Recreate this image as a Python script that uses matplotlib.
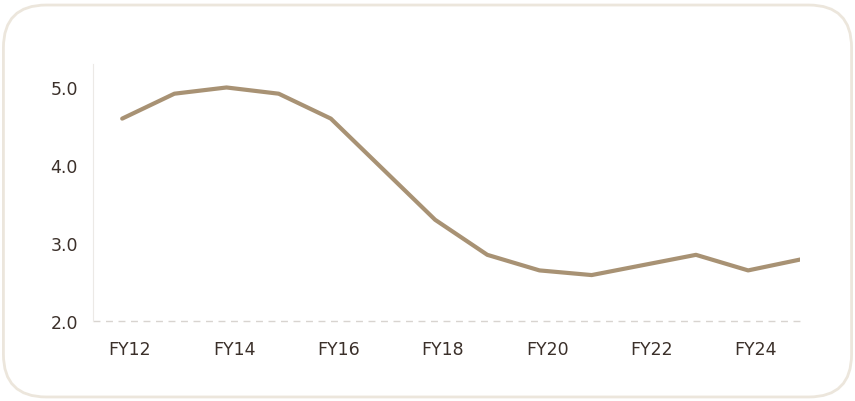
import matplotlib.pyplot as plt
from matplotlib.patches import FancyBboxPatch

# data
years = ['FY12', 'FY13', 'FY14', 'FY15', 'FY16', 'FY17', 'FY18',
         'FY19', 'FY20', 'FY21', 'FY22', 'FY23', 'FY24', 'FY25']
values = [4.6, 4.92, 5.0, 4.92, 4.6, 3.95, 3.3,
          2.85, 2.65, 2.59, 2.72, 2.85, 2.65, 2.79]
tick_labels = ['FY12', 'FY14', 'FY16', 'FY18', 'FY20', 'FY22', 'FY24']
y_ticks = [2.0, 3.0, 4.0, 5.0]

texto = '#3b302a'
linea = '#a89274'

fig = plt.figure(figsize=(8.55, 4.02), dpi=100)
marco = FancyBboxPatch((0.004, 0.01), 0.992, 0.975, boxstyle='round,pad=0,rounding_size=0.05',
                       transform=fig.transFigure, fc='white', ec='#ece6dc', lw=2,
                       mutation_aspect=855 / 402, zorder=-10)
fig.patches.append(marco)

ax = fig.add_axes([0.109, 0.199, 0.827, 0.639])
ax.patch.set_alpha(0)
x = list(range(len(years)))
ax.plot(x, values, color=linea, lw=3, solid_capstyle='round', solid_joinstyle='round')

ax.set_xlim(-0.556, 13)
ax.set_ylim(2.0, 5.3)
ax.set_xticks([years.index(t) + 0.15 for t in tick_labels])
ax.set_xticklabels(tick_labels)
ax.set_yticks(y_ticks)
ax.set_yticklabels([f'{v:.1f}' for v in y_ticks])
ax.tick_params(length=0, labelsize=12.5, colors=texto)
ax.tick_params(axis='x', pad=14)
ax.tick_params(axis='y', pad=11)

for s in ['top', 'right', 'bottom']:
    ax.spines[s].set_visible(False)
ax.spines['left'].set_color('#ece9e6')
ax.axhline(2.0, color='#d8d4d0', lw=1, ls=(0, (5, 4)), clip_on=False)

fig.savefig('out.png', dpi=100)
